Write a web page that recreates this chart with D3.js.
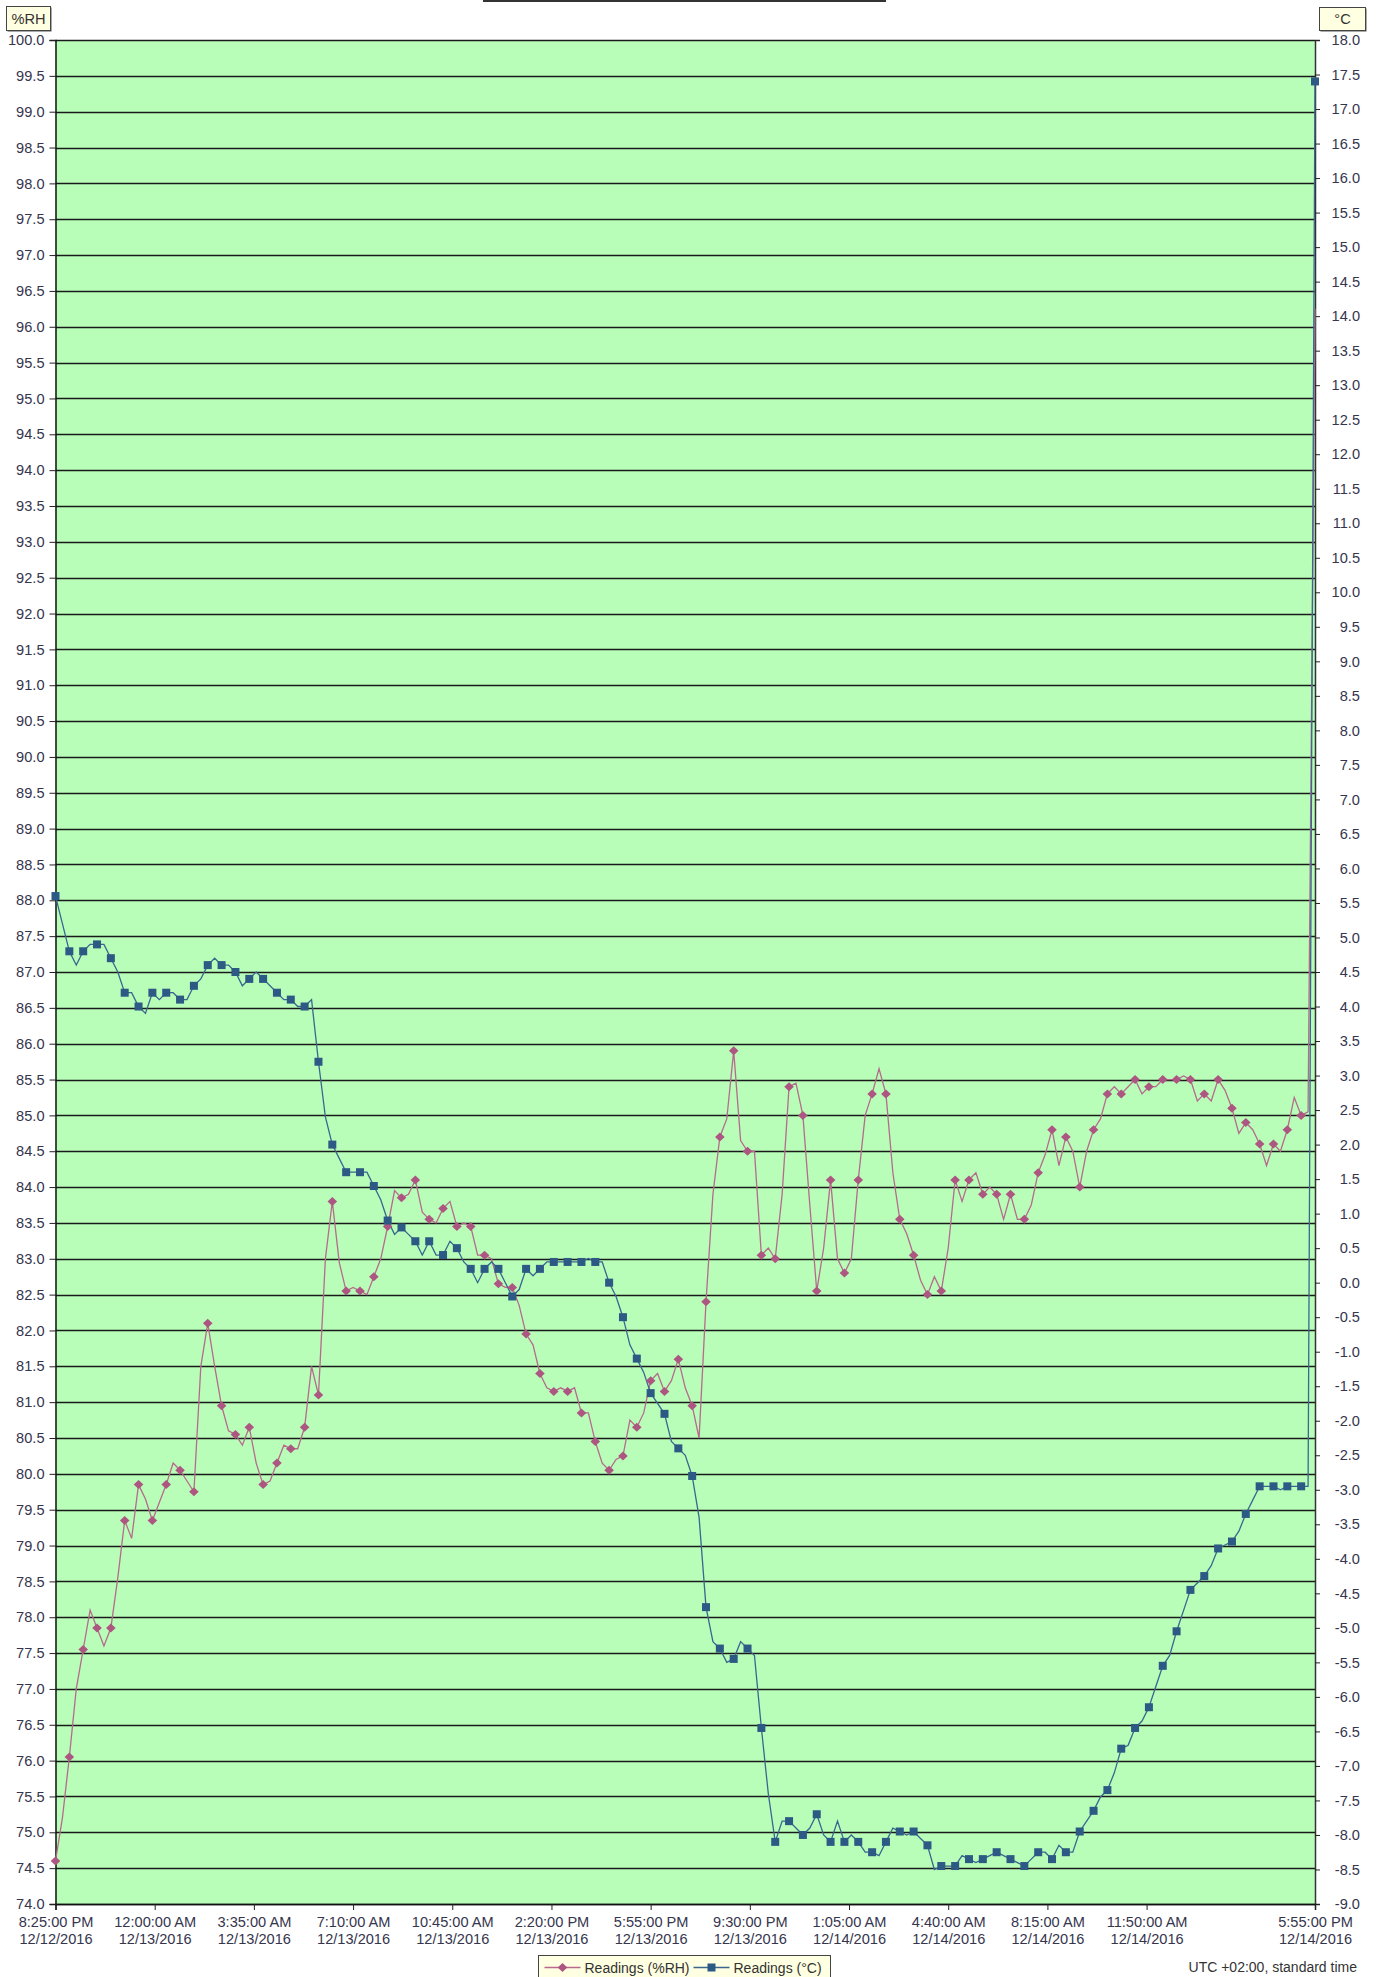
<!DOCTYPE html>
<html>
<head>
<meta charset="utf-8">
<script src="https://cdn.jsdelivr.net/npm/d3@7"></script>
<style>
  body { margin: 0; background: #fff; }
  svg { display: block; font-family: "Liberation Sans", Arial, sans-serif; }
</style>
</head>
<body>
<svg width="1381" height="1977"></svg>
<script>
// readings every 15 minutes from 8:25 PM 12/12/2016, a marker on every 30 min
const startTime = new Date(2016, 11, 12, 20, 25)
const stepMinutes = 15

const rhReadings = [
  74.6, 75.2, 76.05, 77.0, 77.55, 78.1, 77.85, 77.6, 77.85, 78.55,
  79.35, 79.1, 79.85, 79.65, 79.35, 79.6, 79.85, 80.15, 80.05, 79.9,
  79.75, 81.5, 82.1, 81.5, 80.95, 80.6, 80.55, 80.4, 80.65, 80.15,
  79.85, 79.9, 80.15, 80.4, 80.35, 80.35, 80.65, 81.5, 81.1, 83.0,
  83.8, 82.95, 82.55, 82.6, 82.55, 82.5, 82.75, 83.0, 83.45, 83.95,
  83.85, 83.9, 84.1, 83.65, 83.55, 83.5, 83.7, 83.8, 83.45, 83.5,
  83.45, 83.05, 83.05, 83.0, 82.65, 82.6, 82.6, 82.35, 81.95, 81.8,
  81.4, 81.2, 81.15, 81.2, 81.15, 81.2, 80.85, 80.85, 80.45, 80.15,
  80.05, 80.2, 80.25, 80.75, 80.65, 80.85, 81.3, 81.4, 81.15, 81.3,
  81.6, 81.2, 80.95, 80.5, 82.4, 83.9, 84.7, 84.95, 85.9, 84.65,
  84.5, 84.5, 83.05, 83.15, 83.0, 83.9, 85.4, 85.45, 85.0, 83.75,
  82.55, 83.15, 84.1, 83.0, 82.8, 83.0, 84.1, 85.0, 85.3, 85.65,
  85.3, 84.2, 83.55, 83.35, 83.05, 82.7, 82.5, 82.75, 82.55, 83.15,
  84.1, 83.8, 84.1, 84.2, 83.9, 84.0, 83.9, 83.55, 83.9, 83.55,
  83.55, 83.75, 84.2, 84.45, 84.8, 84.3, 84.7, 84.5, 84.0, 84.5,
  84.8, 84.95, 85.3, 85.4, 85.3, 85.4, 85.5, 85.3, 85.4, 85.4,
  85.5, 85.5, 85.5, 85.55, 85.5, 85.2, 85.3, 85.2, 85.5, 85.35,
  85.1, 84.75, 84.9, 84.8, 84.6, 84.3, 84.6, 84.5, 84.8, 85.25,
  85.0, 85.05, 96.25
]

const tempReadings = [
  5.6, 5.2, 4.8, 4.6, 4.8, 4.9, 4.9, 4.9, 4.7, 4.5,
  4.2, 4.2, 4.0, 3.9, 4.2, 4.1, 4.2, 4.2, 4.1, 4.1,
  4.3, 4.4, 4.6, 4.7, 4.6, 4.6, 4.5, 4.3, 4.4, 4.5,
  4.4, 4.3, 4.2, 4.1, 4.1, 4.0, 4.0, 4.1, 3.2, 2.4,
  2.0, 1.8, 1.6, 1.6, 1.6, 1.6, 1.4, 1.2, 0.9, 0.7,
  0.8, 0.7, 0.6, 0.4, 0.6, 0.4, 0.4, 0.6, 0.5, 0.3,
  0.2, 0.0, 0.2, 0.3, 0.2, 0.0, -0.2, -0.1, 0.2, 0.1,
  0.2, 0.3, 0.3, 0.3, 0.3, 0.3, 0.3, 0.35, 0.3, 0.3,
  0.0, -0.2, -0.5, -0.9, -1.1, -1.3, -1.6, -1.75, -1.9, -2.3,
  -2.4, -2.5, -2.8, -3.4, -4.7, -5.2, -5.3, -5.5, -5.45, -5.2,
  -5.3, -5.4, -6.45, -7.4, -8.1, -7.8, -7.8, -7.9, -8.0, -7.9,
  -7.7, -8.0, -8.1, -7.8, -8.1, -8.0, -8.1, -8.25, -8.25, -8.3,
  -8.1, -7.9, -7.95, -8.0, -7.95, -8.05, -8.15, -8.5, -8.45, -8.45,
  -8.45, -8.3, -8.35, -8.4, -8.35, -8.3, -8.25, -8.3, -8.35, -8.4,
  -8.45, -8.35, -8.25, -8.25, -8.35, -8.15, -8.25, -8.25, -7.95, -7.8,
  -7.65, -7.45, -7.35, -7.1, -6.75, -6.7, -6.45, -6.35, -6.15, -5.85,
  -5.55, -5.4, -5.05, -4.75, -4.45, -4.35, -4.25, -4.1, -3.85, -3.8,
  -3.75, -3.6, -3.35, -3.15, -2.95, -2.95, -2.95, -3.0, -2.95, -2.95,
  -2.95, -2.95, 17.4
]

const tickTimes = [
  '2016-12-12T20:25', '2016-12-13T00:00', '2016-12-13T03:35', '2016-12-13T07:10',
  '2016-12-13T10:45', '2016-12-13T14:20', '2016-12-13T17:55', '2016-12-13T21:30',
  '2016-12-14T01:05', '2016-12-14T04:40', '2016-12-14T08:15', '2016-12-14T11:50',
  '2016-12-14T17:55'
]

const rhDomain = [74, 100]
const tempDomain = [-9, 18]

const seriesNames = ['Readings (%RH)', 'Readings (°C)']
const footNote = 'UTC +02:00, standard time'

const rhColor = '#b76a8d', rhMark = '#ad5681'
const tColor = '#3a6690', tMark = '#2d5985'

const svg = d3.select('svg')

const plotL = 55.5, plotR = 1315, plotT = 40, plotB = 1904
const fontSize = '14.6px'

const parseT = d3.timeParse('%Y-%m-%dT%H:%M')
const times = rhReadings.map((d, i) => d3.timeMinute.offset(startTime, i * stepMinutes))

const x = d3.scaleTime()
  .domain([startTime, parseT(tickTimes[tickTimes.length - 1])])
  .range([plotL, plotR])
const yRH = d3.scaleLinear().domain(rhDomain).range([plotB, plotT])
const yT = d3.scaleLinear().domain(tempDomain).range([plotB, plotT])

// plot background
svg.append('rect')
  .attr('x', plotL).attr('y', plotT)
  .attr('width', plotR - plotL).attr('height', plotB - plotT)
  .attr('fill', '#b8feb8')

// grid on the %RH ticks
const rhTicks = d3.range(rhDomain[0], rhDomain[1] + 0.01, 0.5)
svg.append('g')
  .selectAll('line').data(rhTicks)
  .enter().append('line')
    .attr('x1', plotL).attr('x2', plotR)
    .attr('y1', d => Math.round(yRH(d)) + 0.5)
    .attr('y2', d => Math.round(yRH(d)) + 0.5)
    .attr('stroke', '#1a1a1a')
    .attr('stroke-width', 1.3)

const fmt = d => d.toFixed(1)
const labelColor = '#35354d'

// left axis
const leftAxis = svg.append('g')
  .attr('transform', `translate(${plotL},0)`)
  .call(d3.axisLeft(yRH).tickValues(rhTicks).tickFormat(fmt).tickSize(6).tickPadding(5))
leftAxis.select('.domain').attr('stroke', '#111').attr('stroke-width', 1.5)
leftAxis.selectAll('.tick line').attr('stroke', '#222')

// right axis
const tTicks = d3.range(tempDomain[0], tempDomain[1] + 0.01, 0.5)
const rightAxis = svg.append('g')
  .attr('transform', `translate(${plotR},0)`)
  .call(d3.axisRight(yT).tickValues(tTicks).tickFormat(fmt).tickSize(5).tickPadding(0))
rightAxis.select('.domain').attr('stroke', '#333').attr('stroke-width', 1.5)
rightAxis.selectAll('.tick line').attr('stroke', '#222')
rightAxis.selectAll('.tick text').attr('x', 45).attr('text-anchor', 'end')

// bottom axis
const fTime = d3.timeFormat('%-I:%M:%S %p')
const fDate = d3.timeFormat('%-m/%-d/%Y')
const bottomAxis = svg.append('g')
  .attr('transform', `translate(0,${plotB})`)
  .call(d3.axisBottom(x).tickValues(tickTimes.map(parseT)).tickFormat('').tickSize(6))
bottomAxis.select('.domain').attr('stroke', '#111').attr('stroke-width', 1.5)
bottomAxis.selectAll('.tick line').attr('stroke', '#222')
bottomAxis.selectAll('.tick').each(function (d) {
  const t = d3.select(this).append('text')
    .attr('fill', labelColor).attr('text-anchor', 'middle')
  t.append('tspan').attr('x', 0).attr('y', 23).text(fTime(d))
  t.append('tspan').attr('x', 0).attr('y', 40).text(fDate(d))
})

svg.selectAll('.tick text')
  .attr('fill', labelColor)
  .style('font-size', fontSize)
  .style('font-family', '"Liberation Sans", Arial, sans-serif')

// series
const rhLine = d3.line().x((d, i) => x(times[i])).y(d => yRH(d))
const tLine = d3.line().x((d, i) => x(times[i])).y(d => yT(d))

svg.append('path').datum(rhReadings)
  .attr('d', rhLine).attr('fill', 'none')
  .attr('stroke', rhColor).attr('stroke-width', 1.3)
svg.append('path').datum(tempReadings)
  .attr('d', tLine).attr('fill', 'none')
  .attr('stroke', tColor).attr('stroke-width', 1.3)

const diamond = 'M0,-4.5L4.8,0L0,4.5L-4.8,0Z'
const marked = arr => arr.map((v, i) => ({ v, i })).filter(d => d.i % 2 === 0)

// the last %RH reading sits on the axis with no visible marker
svg.append('g').selectAll('path')
  .data(marked(rhReadings).slice(0, -1))
  .enter().append('path')
    .attr('d', diamond)
    .attr('transform', d => `translate(${x(times[d.i])},${yRH(d.v)})`)
    .attr('fill', rhMark)

svg.append('g').selectAll('rect')
  .data(marked(tempReadings))
  .enter().append('rect')
    .attr('x', d => x(times[d.i]) - 4)
    .attr('y', d => yT(d.v) - 4)
    .attr('width', 8).attr('height', 8)
    .attr('fill', tMark)

// axis unit boxes
function unitBox(bx, by, w, h, label) {
  svg.append('rect').attr('x', bx + 1).attr('y', by + 1).attr('width', w).attr('height', h)
    .attr('fill', '#555')
  svg.append('rect').attr('x', bx).attr('y', by).attr('width', w).attr('height', h)
    .attr('fill', '#ffffe1').attr('stroke', '#444').attr('stroke-width', 1)
  svg.append('text').attr('x', bx + w / 2).attr('y', by + h / 2 + 5)
    .attr('text-anchor', 'middle').attr('fill', '#333')
    .style('font-size', fontSize).text(label)
}
unitBox(6.5, 6.5, 44, 24, '%RH')
unitBox(1319.5, 7.5, 46, 23, '°C')

// title bar edge at top
svg.append('line').attr('x1', 483).attr('x2', 886).attr('y1', 1).attr('y2', 1)
  .attr('stroke', '#333').attr('stroke-width', 2)

// legend
const legend = svg.append('g').attr('transform', 'translate(538.5,1955.5)')
legend.append('rect').attr('width', 292).attr('height', 40)
  .attr('fill', '#ffffe1').attr('stroke', '#444')
const items = [
  { name: seriesNames[0], color: rhColor, mark: rhMark, type: 'diamond', x0: 6 },
  { name: seriesNames[1], color: tColor, mark: tMark, type: 'square', x0: 155 }
]
items.forEach(it => {
  const g = legend.append('g').attr('transform', `translate(${it.x0},12)`)
  g.append('line').attr('x1', 0).attr('x2', 36).attr('stroke', it.color).attr('stroke-width', 1.3)
  if (it.type === 'diamond') {
    g.append('path').attr('d', diamond).attr('transform', 'translate(18,0)').attr('fill', it.mark)
  } else {
    g.append('rect').attr('x', 14).attr('y', -4).attr('width', 8).attr('height', 8).attr('fill', it.mark)
  }
  g.append('text').attr('x', 40).attr('y', 5).attr('fill', '#333')
    .style('font-size', '14px').text(it.name)
})

svg.append('text').attr('x', 1357).attr('y', 1972).attr('text-anchor', 'end')
  .attr('fill', '#333').style('font-size', '14px').text(footNote)
</script>
</body>
</html>
